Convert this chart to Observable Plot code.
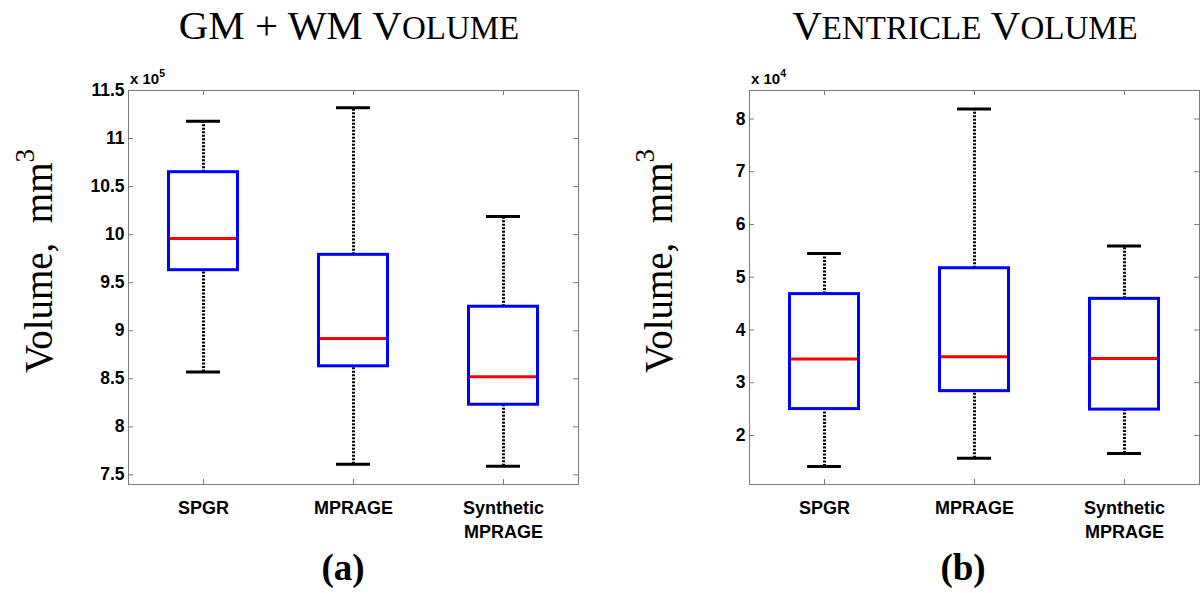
<!DOCTYPE html>
<html><head><meta charset="utf-8">
<script src="https://cdn.jsdelivr.net/npm/d3@7"></script>
<script src="https://cdn.jsdelivr.net/npm/@observablehq/plot@0.6"></script>
<style>
html,body{margin:0;padding:0;background:#fff;}
#wrap{display:flex;width:1202px;height:593px;overflow:hidden;}
#wrap svg{overflow:visible;}
</style></head><body><div id="wrap"></div>
<script>
const categories = ["SPGR", "MPRAGE", "Synthetic MPRAGE"];
const categoryLabels = ["SPGR", "MPRAGE", "Synthetic\nMPRAGE"];

// (a) GM + WM volume, in units of 10^5 mm^3
const gmLower  = [8.57, 7.61, 7.59];
const gmQ1     = [9.63, 8.63, 8.23];
const gmMedian = [9.96, 8.92, 8.52];
const gmQ3     = [10.65, 9.79, 9.25];
const gmUpper  = [11.18, 11.32, 10.19];
const gmTicks  = [7.5, 8, 8.5, 9, 9.5, 10, 10.5, 11, 11.5];

// (b) Ventricle volume, in units of 10^4 mm^3
const venLower  = [1.41, 1.57, 1.66];
const venQ1     = [2.50, 2.84, 2.49];
const venMedian = [3.45, 3.49, 3.46];
const venQ3     = [4.68, 5.17, 4.59];
const venUpper  = [5.45, 8.19, 5.59];
const venTicks  = [2, 3, 4, 5, 6, 7, 8];

const SANS = "'Liberation Sans', Arial, Helvetica, sans-serif";
const SERIF = "'Liberation Serif', 'Times New Roman', serif";

function panel(cfg) {
  const W = 601, H = 593, mt = 90, mb = 109;
  const fw = W - cfg.ml - cfg.mr, fh = H - mt - mb;
  const rows = categories.map((c, i) => ({
    cat: c, lower: cfg.lower[i], q1: cfg.q1[i], median: cfg.median[i], q3: cfg.q3[i], upper: cfg.upper[i]
  }));
  const gray = "#7a7a7a";
  const svg = Plot.plot({
    width: W, height: H,
    marginLeft: cfg.ml, marginRight: cfg.mr, marginTop: mt, marginBottom: mb,
    x: {type: "band", domain: categories, padding: 0, axis: null},
    y: {domain: cfg.domain, axis: null},
    style: {fontFamily: SANS, color: "#000", background: "#fff", overflow: "visible"},
    marks: [
      Plot.frame({stroke: gray, strokeWidth: 1}),
      Plot.tickY(cfg.ticks, {y: d => d, stroke: gray, insetRight: fw - 5}),
      Plot.tickY(cfg.ticks, {y: d => d, stroke: gray, insetLeft: fw - 5}),
      Plot.tickX(categories, {x: d => d, stroke: gray, insetTop: fh - 5}),
      Plot.tickX(categories, {x: d => d, stroke: gray, insetBottom: fh - 5}),
      Plot.axisY(cfg.ticks, {anchor: "left", tickSize: 0, tickPadding: 4, fontSize: 17.5, fontWeight: "bold", tickFormat: d => String(d)}),
      Plot.text(categories, {x: d => d, frameAnchor: "bottom", lineAnchor: "top", dy: 13,
        text: (d, i) => categoryLabels[i], fontSize: 18, fontWeight: "bold", lineHeight: 1.3}),
      Plot.ruleX(rows, {x: "cat", y1: "q3", y2: "upper", stroke: "#000", strokeWidth: 3, strokeDasharray: "2,1.5"}),
      Plot.ruleX(rows, {x: "cat", y1: "lower", y2: "q1", stroke: "#000", strokeWidth: 3, strokeDasharray: "2,1.5"}),
      Plot.tickY(rows, {x: "cat", y: "upper", stroke: "#000", strokeWidth: 3, insetLeft: 58, insetRight: 58}),
      Plot.tickY(rows, {x: "cat", y: "lower", stroke: "#000", strokeWidth: 3, insetLeft: 58, insetRight: 58}),
      Plot.barY(rows, {x: "cat", y1: "q1", y2: "q3", fill: "none", stroke: "#0000ff", strokeWidth: 3, insetLeft: 40.5, insetRight: 40.5}),
      Plot.tickY(rows, {x: "cat", y: "median", stroke: "#ff0000", strokeWidth: 3, insetLeft: 42, insetRight: 42})
    ]
  });
  const s = d3.select(svg);
  // title
  const t = s.append("text").attr("x", cfg.titleX).attr("y", 39).attr("text-anchor", "middle")
    .style("font-family", SERIF).attr("fill", "#000");
  cfg.title.forEach(([str, big]) => t.append("tspan").style("font-size", (big ? 41 : 33) + "px").text(str));
  // y label
  const yl = s.append("text").attr("transform", `translate(${cfg.ylabelX},373) rotate(-90)`)
    .attr("text-anchor", "start").style("font-family", SERIF).style("font-size", "39px").attr("fill", "#000");
  yl.append("tspan").text("Volume,\u00A0 mm");
  yl.append("tspan").style("font-size", "27px").attr("dy", -18).text("3");
  // exponent
  const ex = s.append("text").attr("x", cfg.ml + 2).attr("y", 84).attr("text-anchor", "start")
    .style("font-family", SANS).style("font-weight", "bold").style("font-size", "15px").attr("fill", "#000");
  ex.append("tspan").text("x 10");
  ex.append("tspan").style("font-size", "10.5px").attr("dy", -7).text(cfg.exponent);
  // panel letter
  s.append("text").attr("x", cfg.letterX).attr("y", 580).attr("text-anchor", "middle")
    .style("font-family", SERIF).style("font-weight", "bold").style("font-size", "37px").attr("fill", "#000")
    .text(cfg.letter);
  return svg;
}

const wrap = document.getElementById("wrap");
wrap.appendChild(panel({
  ml: 128, mr: 23, domain: [7.4, 11.5], ticks: gmTicks,
  lower: gmLower, q1: gmQ1, median: gmMedian, q3: gmQ3, upper: gmUpper,
  title: [["GM + WM V", true], ["OLUME", false]], titleX: 349,
  ylabelX: 52, exponent: "5", letter: "(a)", letterX: 343
}));
wrap.appendChild(panel({
  ml: 148, mr: 3, domain: [1.07, 8.54], ticks: venTicks,
  lower: venLower, q1: venQ1, median: venMedian, q3: venQ3, upper: venUpper,
  title: [["V", true], ["ENTRICLE", false], [" V", true], ["OLUME", false]], titleX: 364,
  ylabelX: 71, exponent: "4", letter: "(b)", letterX: 362
}));
</script></body></html>
